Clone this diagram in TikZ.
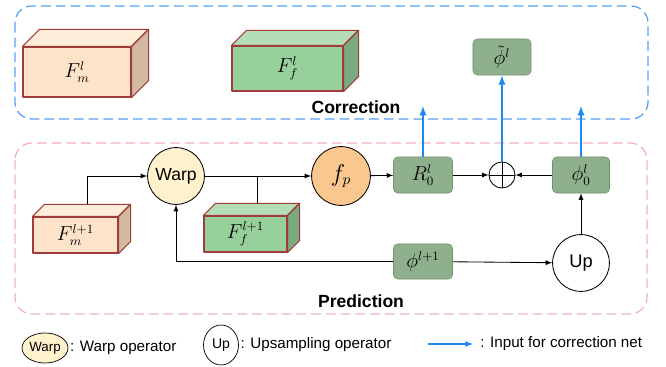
\documentclass[tikz,border=0pt]{standalone}
\usepackage{fontspec}
\setmainfont{Liberation Sans}
\usepackage{amsmath}
\usepackage{tikz}
\usetikzlibrary{positioning}
\usetikzlibrary{calc}
\usetikzlibrary{arrows}
\usetikzlibrary{shapes.geometric}

\definecolor{corrblue}{RGB}{90,160,245}
\definecolor{predpink}{RGB}{245,175,195}
\definecolor{feedblue}{RGB}{30,135,240}
\definecolor{cubeline}{RGB}{160,60,60}
\definecolor{peachfront}{RGB}{253,228,200}
\definecolor{peachtop}{RGB}{254,237,216}
\definecolor{peachside}{RGB}{210,186,160}
\definecolor{greenfront}{RGB}{152,208,156}
\definecolor{greentop}{RGB}{182,222,182}
\definecolor{greenside}{RGB}{122,170,126}
\definecolor{opgreen}{RGB}{143,176,140}
\definecolor{opline}{RGB}{112,145,110}
\definecolor{warpfill}{RGB}{255,242,204}
\definecolor{fpfill}{RGB}{250,200,142}

\tikzset{
  cubeface/.style={draw=cubeline, line width=0.8pt, line join=round, inner sep=0pt},
  opbox/.style={draw=opline, fill=opgreen, rounded corners=3pt, minimum width=1.475cm, minimum height=0.9cm},
  opcirc/.style={draw, circle, line width=0.6pt, minimum size=1.42cm, inner sep=0pt},
  flow/.style={->, >=latex, line width=0.6pt},
  feed/.style={->, >=latex, draw=feedblue, line width=1.3pt},
  region/.style={dash pattern=on 7pt off 3.5pt, line width=0.9pt, rounded corners=12pt},
  legtext/.style={font=\fontsize{10.8}{13}\selectfont, inner sep=1pt},
}

% top face and side face of a feature block
\newcommand{\cubesides}[4]{%
  \draw[cubeface, fill=#3] (#1.north west) -- ++(#2,-#2) -- ($(#1.north east)+(#2,-#2)$) -- (#1.north east) -- cycle;
  \draw[cubeface, fill=#4] (#1.north east) -- ++(#2,-#2) -- ($(#1.south east)+(#2,-#2)$) -- (#1.south east) -- cycle;}

\begin{document}
\begin{tikzpicture}[x=0.025cm, y=-0.025cm, every node/.append style={font=\fontsize{12.5}{15}\selectfont}]
\useasboundingbox (0,0) rectangle (666,367);

% regions
\draw[region, draw=corrblue] (15,6) rectangle (648,119);
\draw[region, draw=predpink] (15,143) rectangle (647,314);
\node[font=\fontsize{12.5}{15}\selectfont\bfseries] (corr) at (356,107) {Correction};
\node[font=\fontsize{12.5}{15}\selectfont\bfseries] (pred) at (361,301) {Prediction};

% feature blocks
\node[cubeface, fill=peachfront, minimum width=2.7cm, minimum height=1.25cm] (Fm) at (77,72) {\fontsize{13.5}{16}\selectfont$F_m^l$};
\cubesides{Fm}{17}{peachtop}{peachside}
\node[cubeface, fill=greenfront, minimum width=2.775cm, minimum height=1.125cm] (Ff) at (287.5,68.5) {\fontsize{13.5}{16}\selectfont$F_f^l$};
\cubesides{Ff}{15}{greentop}{greenside}
\node[cubeface, fill=peachfront, minimum width=2.125cm, minimum height=0.9cm] (Fm1) at (75.5,235) {\fontsize{13.5}{16}\selectfont$F_m^{l+1}$};
\cubesides{Fm1}{12}{peachtop}{peachside}
\node[cubeface, fill=greenfront, minimum width=2.075cm, minimum height=0.9cm] (Ff1) at (245.5,234) {\fontsize{13.5}{16}\selectfont$F_f^{l+1}$};
\cubesides{Ff1}{12}{greentop}{greenside}

% operators
\node[opcirc, fill=warpfill] (warp) at (176,176) {Warp};
\node[opcirc, fill=fpfill, minimum size=1.47cm] (fp) at (341,176) {\fontsize{16}{18}\selectfont$f_p$};
\node[opbox] (R0) at (423,175) {\fontsize{13.5}{16}\selectfont$R_0^l$};
\node[draw, circle, line width=0.6pt, minimum size=0.65cm, inner sep=0pt] (plus) at (502,175) {};
\draw[line width=0.6pt] (plus.north) -- (plus.south) (plus.west) -- (plus.east);
\node[opbox, minimum width=1.425cm] (phi0) at (581,175) {\fontsize{13.5}{16}\selectfont$\phi_0^l$};
\node[opcirc, fill=white] (up) at (581,263) {\fontsize{13}{15}\selectfont Up};
\node[opbox, minimum height=0.875cm] (phi1) at (423,261.5) {\fontsize{13.5}{16}\selectfont$\phi^{l+1}$};
\node[opbox, minimum width=1.45cm] (phit) at (502,57) {\fontsize{13.5}{16}\selectfont$\tilde{\phi}^l$};

% prediction flow
\coordinate (fmtop) at ($(Fm1.north)+(12,-12)$);
\coordinate (fftop) at ($(Ff1.north)+(12,-12)$);
\draw[flow] (fmtop) |- (warp.west);
\draw[line width=0.6pt] (fftop) -- (fftop |- warp.east);
\draw[flow] (warp) -- (fp);
\draw[flow] (fp) -- (R0);
\draw[flow] (R0) -- (plus);
\draw[flow] (phi0) -- (plus);
\draw[flow] (up) -- (phi0);
\draw[flow] (phi1) -- (up);
\draw[flow] (phi1.west) -| (warp.south);

% inputs for correction
\coordinate (corrin) at (0,106);
\draw[feed] (R0.north) -- (R0.north |- corrin);
\draw[feed] (phi0.north) -- (phi0.north |- corrin);
\draw[feed] (plus.north) -- (phit.south);

% legend
\node[draw, ellipse, fill=warpfill, line width=0.5pt, minimum width=1.15cm, minimum height=0.75cm, inner sep=0pt] (lwarp) at (45,348) {\fontsize{9.5}{11}\selectfont Warp};
\node[legtext, right=0pt of lwarp] (twarp) {: Warp operator};
\node[draw, ellipse, line width=0.5pt, minimum width=0.875cm, minimum height=1.0cm, inner sep=0pt] (lup) at (221,345) {\fontsize{10}{12}\selectfont Up};
\node[legtext, right=0pt of lup] (tup) {: Upsampling operator};
\coordinate (la) at (428,344);
\coordinate (lb) at (473,344);
\draw[feed, line width=0.9pt] (la) -- (lb);
\node[legtext, right=4pt of lb] (tfeed) {: Input for correction net};
\end{tikzpicture}
\end{document}
